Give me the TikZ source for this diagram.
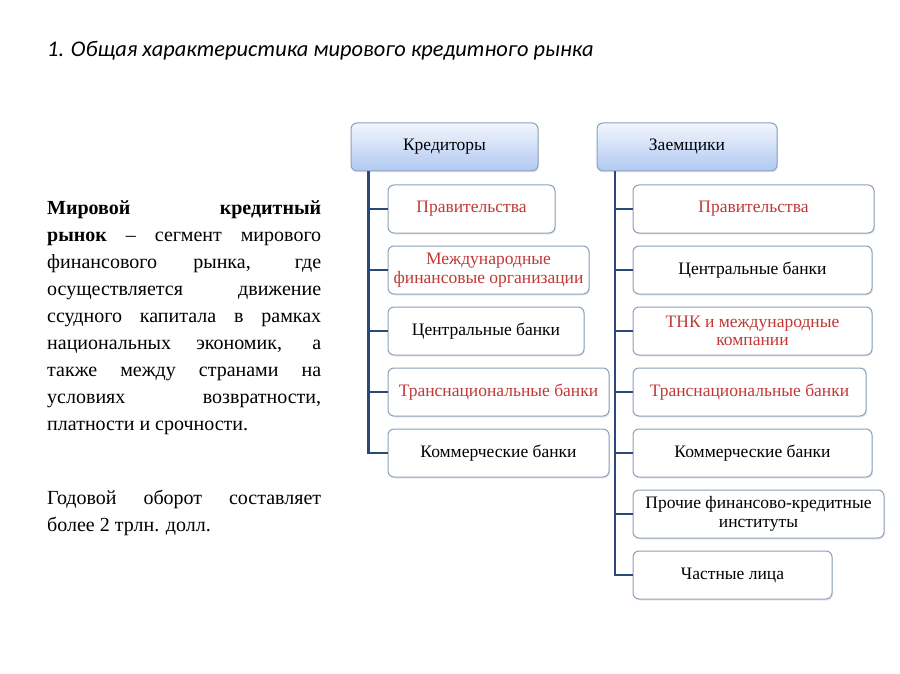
\documentclass[tikz,border=0pt]{standalone}
\usepackage{fontspec}
\setmainfont{Liberation Serif}
\newfontfamily\titlefont{Carlito}
\usetikzlibrary{shadows}
\definecolor{boxborder}{RGB}{140,160,186}
\definecolor{linkblue}{RGB}{44,72,120}
\definecolor{redtxt}{RGB}{192,57,55}
\definecolor{hdtop}{RGB}{242,246,253}
\definecolor{hdbot}{RGB}{176,200,242}
\begin{document}
\begin{tikzpicture}[x=1pt,y=-1pt,
  cbox/.style={draw=boxborder, line width=1pt, rounded corners=6pt, fill=white, align=center,
    font=\fontsize{17.5}{18.5}\selectfont, inner sep=0pt, minimum height=48pt,
    drop shadow={shadow xshift=1pt, shadow yshift=-1.5pt, opacity=0.15}},
  hbox/.style={cbox, top color=hdtop, bottom color=hdbot},
  red/.style={text=redtxt},
  link/.style={draw=linkblue, line width=2.8pt}]
\useasboundingbox[fill=white] (0,0) rectangle (900,674);

\node[anchor=west, font=\titlefont\itshape\fontsize{22.4}{26}\selectfont, inner sep=0pt] (title) at (47,51)
  {1. Общая характеристика мирового кредитного рынка};

\node[anchor=north west, text width=274pt, align=justify, inner sep=0pt,
  font=\fontsize{20}{27}\selectfont] (para1) at (47,201)
  {\textbf{Мировой кредитный}\linebreak \textbf{рынок} – сегмент мирового\linebreak
   финансового рынка, где\linebreak осуществляется движение\linebreak
   ссудного капитала в рамках\linebreak национальных экономик, а\linebreak
   также между странами на\linebreak условиях возвратности,\linebreak
   платности и срочности.};

\node[anchor=north west, text width=274pt, align=justify, inner sep=0pt,
  font=\fontsize{20}{27}\selectfont] (para2) at (47,490)
  {Годовой оборот составляет\linebreak более 2 трлн. долл.};

% left column
\node[hbox, minimum width=187pt] (l0) at (444.5,147) {Кредиторы};
\node[cbox, red, minimum width=167pt] (l1) at (471.5,209) {Правительства};
\node[cbox, red, minimum width=201pt] (l2) at (488.5,270) {Международные\\финансовые организации};
\node[cbox, minimum width=196pt] (l3) at (486,331) {Центральные банки};
\node[cbox, red, minimum width=221pt] (l4) at (498.5,392) {Транснациональные банки};
\node[cbox, minimum width=221pt] (l5) at (498.5,453) {Коммерческие банки};

% right column
\node[hbox, minimum width=180pt] (r0) at (687,147) {Заемщики};
\node[cbox, red, minimum width=241pt] (r1) at (753.5,209) {Правительства};
\node[cbox, minimum width=239pt] (r2) at (752.5,270) {Центральные банки};
\node[cbox, red, minimum width=239pt] (r3) at (752.5,331) {ТНК и международные\\компании};
\node[cbox, red, minimum width=233pt] (r4) at (749.5,392) {Транснациональные банки};
\node[cbox, minimum width=239pt] (r5) at (752.5,453) {Коммерческие банки};
\node[cbox, minimum width=251pt] (r6) at (758.5,514) {Прочие финансово-кредитные\\институты};
\node[cbox, minimum width=199pt] (r7) at (732.5,575) {Частные лица};

\coordinate (lt) at ([xshift=18pt]l0.south west);
\coordinate (rt) at ([xshift=18.5pt]r0.south west);

\draw[link] (lt) |- (l5.west);
\foreach \n in {l1,l2,l3,l4} \draw[link] (lt |- \n.west) -- (\n.west);
\draw[link] (rt) |- (r7.west);
\foreach \n in {r1,r2,r3,r4,r5,r6} \draw[link] (rt |- \n.west) -- (\n.west);
\end{tikzpicture}
\end{document}
